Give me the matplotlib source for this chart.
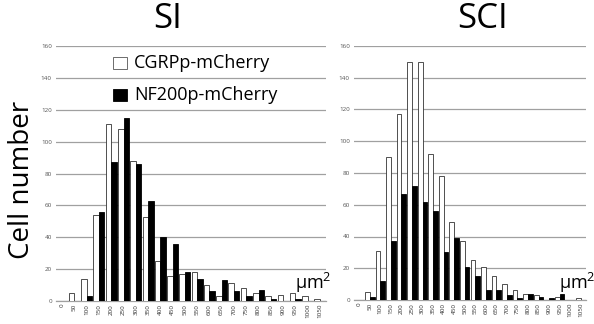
import matplotlib
matplotlib.use("Agg")
import matplotlib.pyplot as plt
from matplotlib.patches import Rectangle
import numpy as np

categories = [str(v) for v in range(0, 1051, 50)]

si_cgrp = [0, 5, 14, 54, 111, 108, 88, 53, 25, 16, 17, 18, 10, 3, 11, 8, 5, 3, 4, 5, 3, 1]
si_nf200 = [0, 0, 3, 56, 87, 115, 86, 63, 40, 36, 18, 14, 6, 13, 6, 3, 7, 1, 0, 1, 0, 0]

sci_cgrp = [0, 5, 31, 90, 117, 150, 150, 92, 78, 49, 37, 25, 21, 15, 10, 6, 4, 3, 0, 2, 0, 1]
sci_nf200 = [0, 2, 12, 37, 67, 72, 62, 56, 30, 39, 21, 15, 6, 6, 3, 1, 4, 2, 1, 4, 0, 0]

yticks = list(range(0, 161, 20))

plt.rcParams['font.family'] = ['Open Sans', 'DejaVu Sans']

W, H = 594, 324
fig = plt.figure(figsize=(W / 100, H / 100), dpi=100)

def fx(px):
    return px / W

def fy(py):
    return 1 - py / H

ax1 = fig.add_axes([fx(56), fy(301), fx(326) - fx(56), fy(46) - fy(301)])
ax2 = fig.add_axes([fx(354), fy(300), fx(586) - fx(354), fy(46) - fy(300)])

x = np.arange(len(categories))
bw = 0.45
for ax, wv, bv in [(ax1, si_cgrp, si_nf200), (ax2, sci_cgrp, sci_nf200)]:
    ax.bar(x - bw / 2, wv, width=bw, color='white', edgecolor='#333333', linewidth=0.6, zorder=3)
    ax.bar(x + bw / 2, bv, width=bw, color='black', edgecolor='black', linewidth=0.6, zorder=3)
    ax.set_xlim(-0.5, len(categories) - 0.5)
    ax.set_ylim(0, 160)
    ax.set_yticks(yticks)
    ax.set_yticklabels([str(v) for v in yticks], fontsize=4.5, color='#555555')
    ax.set_xticks(x)
    ax.set_xticklabels(categories, rotation=90, fontsize=4.5, color='#333333')
    ax.tick_params(axis='y', length=0, pad=3)
    ax.tick_params(axis='x', length=0, pad=2)
    ax.grid(axis='y', color='#a0a0a0', linewidth=0.9, zorder=0)
    ax.set_axisbelow(True)
    for s in ['left', 'right', 'top']:
        ax.spines[s].set_visible(False)
    ax.spines['bottom'].set_color('#a0a0a0')
    ax.spines['bottom'].set_linewidth(0.9)
    ax.patch.set_alpha(0)

fig.text(fx(168), fy(19), 'SI', fontsize=25, ha='center', va='center')
fig.text(fx(483), fy(19), 'SCI', fontsize=25, ha='center', va='center')
fig.text(fx(22), fy(180), 'Cell number', fontsize=20, rotation=90, ha='center', va='center')

unit = r'μm$^{\mathregular{2}}$'
fig.text(fx(295), fy(289), unit, fontsize=13, ha='left', va='baseline')
fig.text(fx(559), fy(289), unit, fontsize=13, ha='left', va='baseline')

# legend
fig.add_artist(Rectangle((fx(113), fy(69)), fx(14), fy(57) - fy(69), facecolor='white',
                         edgecolor='#555555', linewidth=0.6, transform=fig.transFigure))
fig.add_artist(Rectangle((fx(113), fy(101)), fx(14), fy(89) - fy(101), facecolor='black',
                         edgecolor='black', linewidth=0.6, transform=fig.transFigure))
fig.text(fx(134), fy(63), 'CGRPp-mCherry', fontsize=13, ha='left', va='center')
fig.text(fx(134), fy(95), 'NF200p-mCherry', fontsize=13, ha='left', va='center')

fig.savefig('out.png', dpi=100)
